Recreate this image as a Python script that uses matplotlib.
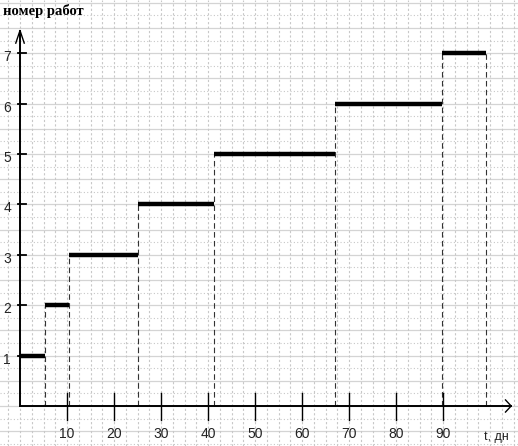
import matplotlib
matplotlib.use("Agg")
from matplotlib import pyplot as plt
import numpy as np

# job number -> start / end day
jobs = [1, 2, 3, 4, 5, 6, 7]
starts = [0, 5.3, 10.4, 25, 41.2, 67, 89.7]
ends = [5.3, 10.4, 25, 41.2, 67, 89.7, 99.2]
x_ticks = [10, 20, 30, 40, 50, 60, 70, 80, 90]
y_ticks = [1, 2, 3, 4, 5, 6, 7]

fig = plt.figure(figsize=(5.18, 4.46), dpi=100)
ax = fig.add_axes([0, 0, 1, 1])
x0, x1 = -20 / 4.7, (518 - 20) / 4.7
y0, y1 = (406 - 446) / 50.4, 406 / 50.4
ax.set_xlim(x0, x1)
ax.set_ylim(y0, y1)
ax.axis("off")

# graph paper background
for i, yy in enumerate(np.arange(-0.75, 8.25, 0.25)):
    if i % 2 == 1:
        ax.axhline(yy, color="#d4d4d4", lw=0.9, zorder=0)
    else:
        ax.axhline(yy, color="#c8c8c8", lw=0.8, ls=(0, (1, 2)), zorder=0)
for xx in np.arange(-2.5, 107, 2.5):
    ax.axvline(xx, color="#c8c8c8", lw=0.8, ls=(0, (2, 2)), zorder=0)

# axes with arrows
ax.plot([0, 0], [0, 7.45], color="black", lw=1.4, zorder=3)
ax.plot([0, 104.5], [0, 0], color="black", lw=1.4, zorder=3)
ax.plot([-0.9, 0, 0.9], [7.2, 7.45, 7.2], color="black", lw=1, zorder=3)
ax.plot([103.3, 104.5, 103.3], [0.12, 0, -0.12], color="black", lw=1, zorder=3)

tick_font = ["Liberation Sans", "DejaVu Sans"]
for t in x_ticks:
    ax.plot([t, t], [-0.28, 0.26], color="black", lw=1, zorder=3)
    ax.text(t, -0.56, str(t), ha="center", va="center", fontsize=10,
            family=tick_font, color="#222222")
for t in y_ticks:
    ax.plot([-0.45, 1.3], [t, t], color="black", lw=1.3, zorder=3)
    ax.text(-2.7, t - 0.08, str(t), ha="center", va="center", fontsize=10,
            family=tick_font, color="#222222")

# job bars and dashed drops
for j, s, e in zip(jobs, starts, ends):
    ax.plot([s, e], [j, j], color="black", lw=3.2, solid_capstyle="butt", zorder=4)
    ax.plot([e, e], [0, min(j + 1, 7)], color="#333333", lw=0.8,
            ls=(0, (5, 3)), zorder=2)

ax.text(98.8, -0.62, "t, дн", ha="left", va="center", fontsize=9,
        family=tick_font, color="#222222")
ax.text(-3.7, 7.83, "номер работ", ha="left", va="center", fontsize=10.5,
        fontweight="bold", family=["Liberation Serif", "DejaVu Serif"])

fig.savefig("out.png", dpi=100)
